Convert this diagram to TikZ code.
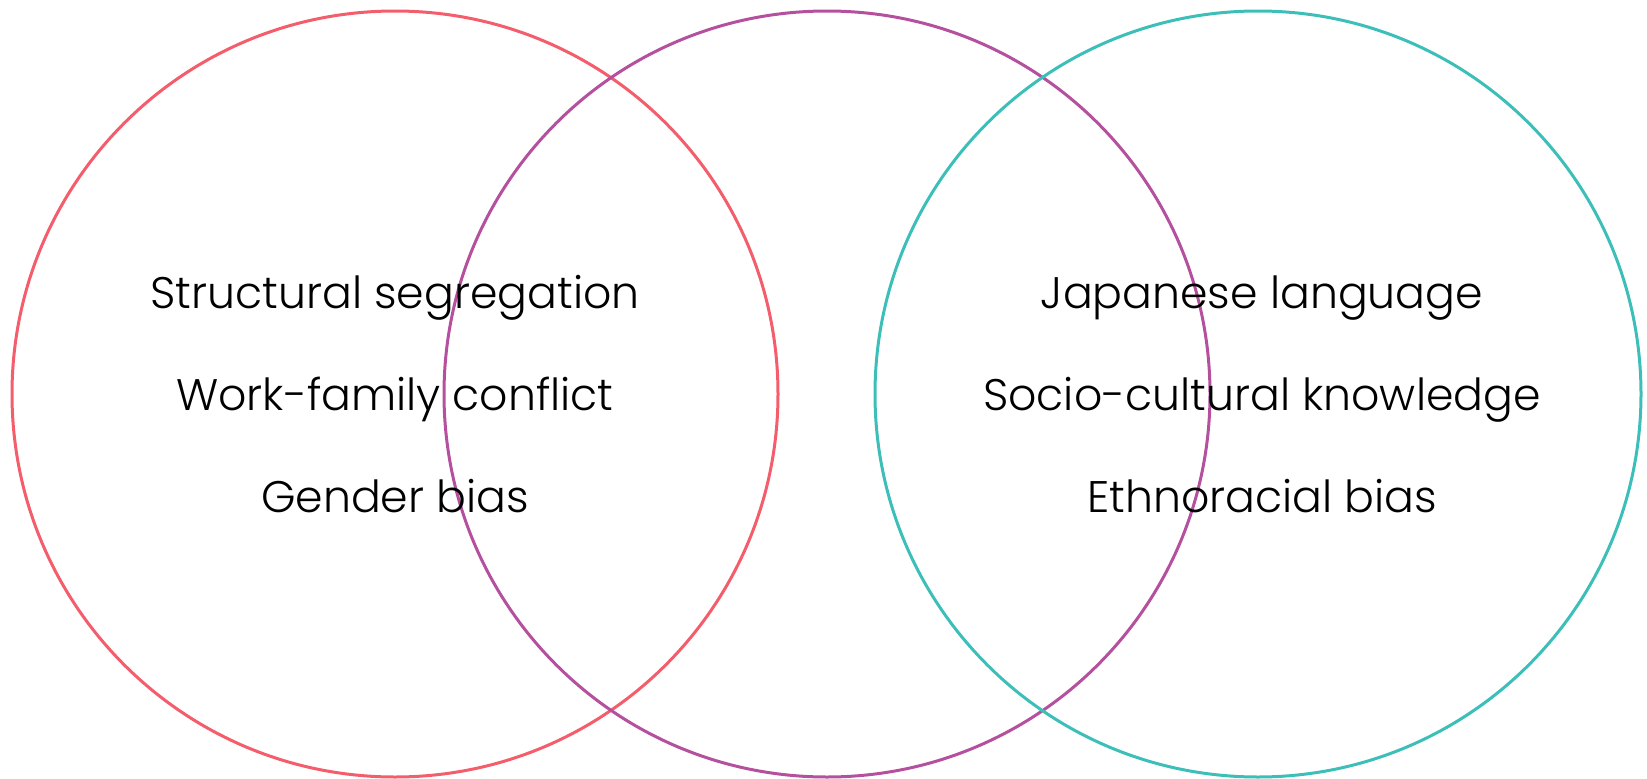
\documentclass[tikz,border=0pt]{standalone}
\usepackage{fontspec}
\setmainfont{Poppins Light}
\definecolor{vred}{HTML}{F45D6B}
\definecolor{vpurple}{HTML}{B5509F}
\definecolor{vteal}{HTML}{3DBFB9}
\begin{document}
\begin{tikzpicture}[x=1pt,y=-1pt,
  ring/.style={line width=3pt},
  lbl/.style={anchor=base,inner sep=0pt,font=\fontsize{44.2}{50}\selectfont,text=black}]
\useasboundingbox (0,0) rectangle (1647,779);
% three overlapping circles
\draw[ring,vred]    (395,394)  circle[radius=383];
\draw[ring,vpurple] (827,394)  circle[radius=383];
\draw[ring,vteal]   (1258,394) circle[radius=383];
% left group
\node[lbl] (l1) at (395,308) {Structural segregation};
\node[lbl] (l2) at (395,410) {Work-family conflict};
\node[lbl] (l3) at (395,512) {Gender bias};
% right group
\node[lbl] (r1) at (1262,308) {Japanese language};
\node[lbl] (r2) at (1262,410) {Socio-cultural knowledge};
\node[lbl] (r3) at (1262,512) {Ethnoracial bias};
\end{tikzpicture}
\end{document}
